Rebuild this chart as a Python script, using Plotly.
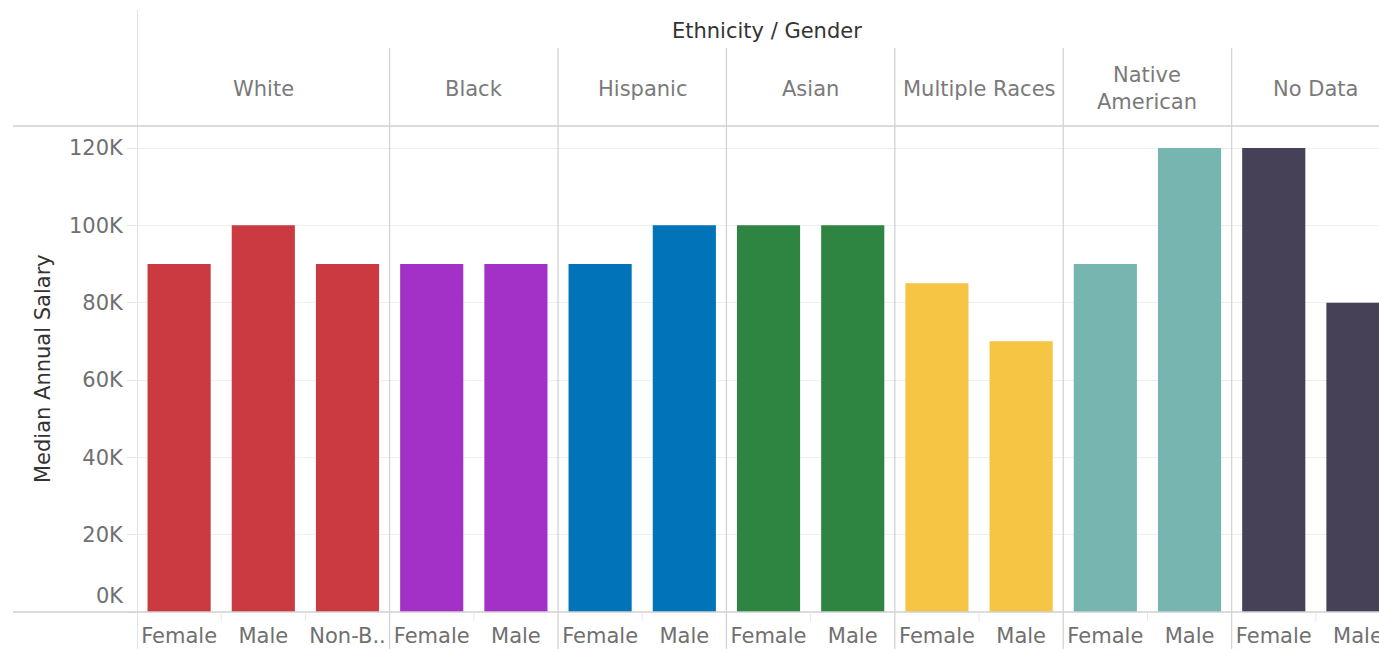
import plotly.graph_objects as go

# ---- data ----
ethnicities = ["White", "Black", "Hispanic", "Asian", "Multiple Races", "Native<br>American", "No Data"]
genders = [
    ["Female", "Male", "Non-B.."],
    ["Female", "Male"],
    ["Female", "Male"],
    ["Female", "Male"],
    ["Female", "Male"],
    ["Female", "Male"],
    ["Female", "Male"],
]
salaries = [
    [90000, 100000, 90000],
    [90000, 90000],
    [90000, 100000],
    [100000, 100000],
    [85000, 70000],
    [90000, 120000],
    [120000, 80000],
]
colors = ["#CB3A40", "#A431C7", "#0073B9", "#2E8541", "#F6C543", "#77B5B0", "#474158"]
y_ticks = [0, 20000, 40000, 60000, 80000, 100000, 120000]
y_ticktext = ["0K", "20K", "40K", "60K", "80K", "100K", "120K"]

W, H = 1379, 649
L, T, B = 137, 126, 37
plot_w = W - L
plot_h = H - T - B

def py(p):  # pixel y -> paper y
    return (H - B - p) / plot_h

def px(p):  # pixel x -> paper x
    return (p - L) / plot_w

FONT = "DejaVu Sans"
FS = 21
fig = go.Figure()

tickvals, ticktext = [], []
group_bounds = []
pos = 0
for eth, gs, vals, col in zip(ethnicities, genders, salaries, colors):
    xs = list(range(pos, pos + len(gs)))
    fig.add_trace(go.Bar(x=xs, y=vals, marker=dict(color=col, line=dict(width=0)),
                         width=0.75, name=eth.replace("<br>", " "), showlegend=False))
    tickvals += xs
    ticktext += gs
    group_bounds.append((pos - 0.5, pos + len(gs) - 0.5))
    pos += len(gs)

shapes = []
# group separators
for (a, b) in group_bounds[1:]:
    shapes.append(dict(type="line", xref="x", yref="paper", x0=a, x1=a,
                       y0=py(H), y1=py(48), line=dict(color="#D4D4D4", width=1.3)))
# left border
shapes.append(dict(type="line", xref="x", yref="paper", x0=-0.5, x1=-0.5,
                   y0=py(H), y1=py(10), line=dict(color="#D4D4D4", width=1.3)))
# horizontal header/baseline lines
for yy in (T, H - B):
    shapes.append(dict(type="line", xref="paper", yref="paper", x0=px(13), x1=1,
                       y0=py(yy), y1=py(yy), line=dict(color="#D0D0D0", width=1.6)))
# faint slot separators in label band
for (a, b) in group_bounds:
    k = a + 1
    while k < b:
        shapes.append(dict(type="line", xref="x", yref="paper", x0=k, x1=k,
                           y0=py(621), y1=py(H - B), line=dict(color="#E6E6E6", width=1)))
        k += 1

annotations = []
for eth, (a, b) in zip(ethnicities, group_bounds):
    annotations.append(dict(x=(a + b) / 2, y=py(89), xref="x", yref="paper", text=eth,
                            showarrow=False, xanchor="center", yanchor="middle",
                            font=dict(family=FONT, size=FS, color="#7A7A7A")))
annotations.append(dict(x=px(767), y=py(31), xref="paper", yref="paper",
                        text="Ethnicity / Gender", showarrow=False,
                        xanchor="center", yanchor="middle",
                        font=dict(family=FONT, size=FS, color="#333333")))
annotations.append(dict(x=px(43), y=0.5, xref="paper", yref="paper",
                        text="Median Annual Salary", showarrow=False, textangle=-90,
                        xanchor="center", yanchor="middle",
                        font=dict(family=FONT, size=FS, color="#333333")))
# "0K" label sits raised above the baseline, as in the original
annotations.append(dict(x=px(126), y=0, xref="paper", yref="y", text=y_ticktext[0],
                        showarrow=False, xanchor="right", yanchor="bottom", yshift=2,
                        font=dict(family=FONT, size=FS, color="#707070")))
axis_ticktext = [""] + y_ticktext[1:]

fig.update_layout(
    width=W, height=H,
    margin=dict(l=L, r=0, t=T, b=B, pad=0, autoexpand=False),
    plot_bgcolor="white", paper_bgcolor="white",
    bargap=0.25,
    shapes=shapes, annotations=annotations,
    xaxis=dict(range=[-0.5, 14.25], tickmode="array", tickvals=tickvals, ticktext=ticktext,
               showgrid=False, zeroline=False, showline=False, ticks="",
               ticklabelstandoff=9, ticklabeloverflow="allow", automargin=False,
               tickfont=dict(family=FONT, size=FS, color="#707070"), fixedrange=True),
    yaxis=dict(range=[0, 125700], tickmode="array", tickvals=y_ticks, ticktext=axis_ticktext,
               showgrid=True, gridcolor="#EFEFEF", gridwidth=1, zeroline=False, showline=False,
               ticks="outside", ticklen=9, tickcolor="#E6E6E6", automargin=False,
               tickfont=dict(family=FONT, size=FS, color="#707070")),
)

fig.write_html(
    "out.html",
    config={"displayModeBar": False},
    post_script="document.body.style.margin='0';document.body.style.overflow='hidden';",
)
